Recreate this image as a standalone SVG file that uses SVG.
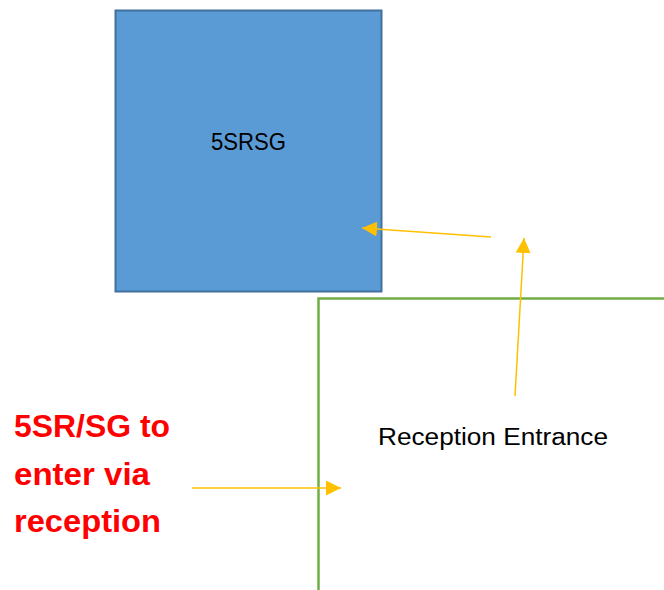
<svg xmlns="http://www.w3.org/2000/svg" width="664" height="590" viewBox="0 0 664 590">
<style>
.lbl{font-family:"Liberation Sans",Arial,sans-serif;fill:#000}
.red{font-family:"Liberation Sans",Arial,sans-serif;font-weight:bold;fill:#FF0000;font-size:31px}
.conn{stroke:#FFC000;stroke-width:1.5;fill:none}
</style>
<defs>
<marker id="ah" markerUnits="userSpaceOnUse" markerWidth="16" markerHeight="16" refX="15" refY="7.5" orient="auto">
<path d="M0,0 L15,7.5 L0,15 Z" fill="#FFC000"/>
</marker>
</defs>
<rect width="664" height="590" fill="#fff"/>
<g id="node-5srsg">
<rect x="115.5" y="10.5" width="266" height="281" fill="#5B9BD5" stroke="#41719C" stroke-width="2"/>
<text class="lbl" x="248.5" y="150" font-size="24" text-anchor="middle" textLength="75" lengthAdjust="spacingAndGlyphs">5SRSG</text>
</g>
<g id="node-reception">
<path d="M318.5,590 L318.5,298.5 L664,298.5" fill="none" stroke="#70AD47" stroke-width="2.5"/>
<text class="lbl" x="378" y="445" font-size="23.5" textLength="230" lengthAdjust="spacingAndGlyphs">Reception Entrance</text>
</g>
<g id="node-note">
<text class="red" x="14" y="437" textLength="156" lengthAdjust="spacingAndGlyphs">5SR/SG to</text>
<text class="red" x="14" y="485" textLength="136" lengthAdjust="spacingAndGlyphs">enter via</text>
<text class="red" x="14" y="532" textLength="147" lengthAdjust="spacingAndGlyphs">reception</text>
</g>
<g id="connectors">
<line class="conn" x1="491" y1="237" x2="362" y2="228" marker-end="url(#ah)"/>
<line class="conn" x1="515" y1="396" x2="524" y2="238" marker-end="url(#ah)"/>
<line class="conn" x1="192" y1="488" x2="341" y2="488" marker-end="url(#ah)"/>
</g>
</svg>
